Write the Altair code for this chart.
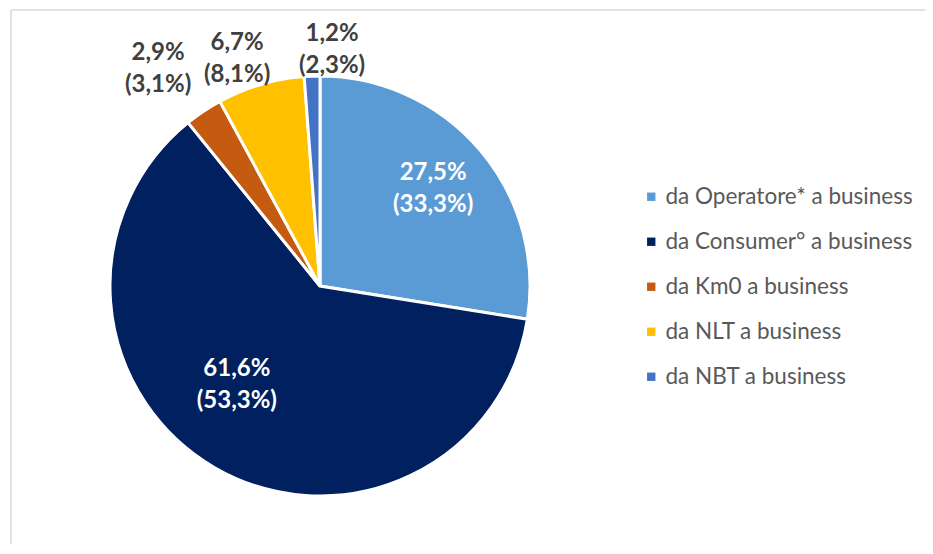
import altair as alt
import pandas as pd

categories = ["da Operatore* a business", "da Consumer° a business", "da Km0 a business",
              "da NLT a business", "da NBT a business"]
shares = [27.5, 61.6, 2.9, 6.7, 1.2]
shares_prev = [33.3, 53.3, 3.1, 8.1, 2.3]
colors = ["#5B9BD5", "#002060", "#C55A11", "#FFC000", "#4472C4"]


def fmt(v):
    return f"{v:.1f}".replace(".", ",") + "%"


df = pd.DataFrame({
    "cat": categories,
    "value": shares,
    "idx": list(range(len(categories))),
    "label": [f"{fmt(a)}\n({fmt(b)})" for a, b in zip(shares, shares_prev)],
})
total = sum(shares)

W, H = 914, 534
CX, CY, R = 309, 276, 210

base = alt.Chart(df).transform_stack(
    stack="value", groupby=[], as_=["v0", "v1"], sort=[alt.SortField("idx", order="ascending")]
).transform_calculate(mid="(datum.v0 + datum.v1) / 2")

theta_scale = alt.Scale(domain=[0, total])

color = alt.Color("cat:N", scale=alt.Scale(domain=categories, range=colors),
                  legend=alt.Legend(title=None, orient="none", legendX=629, legendY=175.5,
                                    symbolType="square", symbolSize=70, symbolStrokeWidth=0,
                                    labelFont="Lato", labelFontSize=22.5, labelColor="#595959",
                                    labelOffset=3, rowPadding=22, labelLimit=400))

pie = base.mark_arc(radius=R, stroke="white", strokeWidth=3).encode(
    theta=alt.Theta("v0:Q", scale=theta_scale),
    theta2="v1:Q",
    color=color,
    x=alt.value(CX), y=alt.value(CY),
)

# label placement styles per slice: (radius, dx, dy, color)
LH = 32
label_style = {
    categories[0]: (150, -1, 0, "white"),
    categories[1]: (130, -18, -13, "white"),
    categories[2]: (272, -11, 9, "#404040"),
    categories[3]: (244, -14, 7, "#404040"),
    categories[4]: (237, 21, 1, "#404040"),
}

layers = [pie]
for cat, (r, dx, dy, col) in label_style.items():
    layers.append(
        base.transform_filter(alt.datum.cat == cat).mark_text(
            radius=r, dx=dx, dy=dy - LH / 2, font="Lato", fontSize=24, fontWeight="bold",
            color=col, lineBreak="\n", lineHeight=LH, align="center", baseline="middle",
        ).encode(
            theta=alt.Theta("mid:Q", scale=theta_scale),
            text="label:N",
            x=alt.value(CX), y=alt.value(CY),
        )
    )

frame_df = alt.Chart(pd.DataFrame({"a": [0]}))
top_rule = frame_df.mark_rule(color="#D9D9D9", strokeWidth=1.5).encode(
    x=alt.value(0), x2=alt.value(W), y=alt.value(0))
left_rule = frame_df.mark_rule(color="#D9D9D9", strokeWidth=1.5).encode(
    x=alt.value(0), y=alt.value(0), y2=alt.value(H + 10))
layers += [top_rule, left_rule]

chart = alt.layer(*layers).properties(
    width=W, height=H,
    padding={"left": 3, "top": 2, "right": 0, "bottom": 0},
    autosize=alt.AutoSizeParams(type="none"),
).configure_view(strokeOpacity=0, strokeWidth=0)

chart.save("out.html", embed_options={"renderer": "svg", "actions": False})
